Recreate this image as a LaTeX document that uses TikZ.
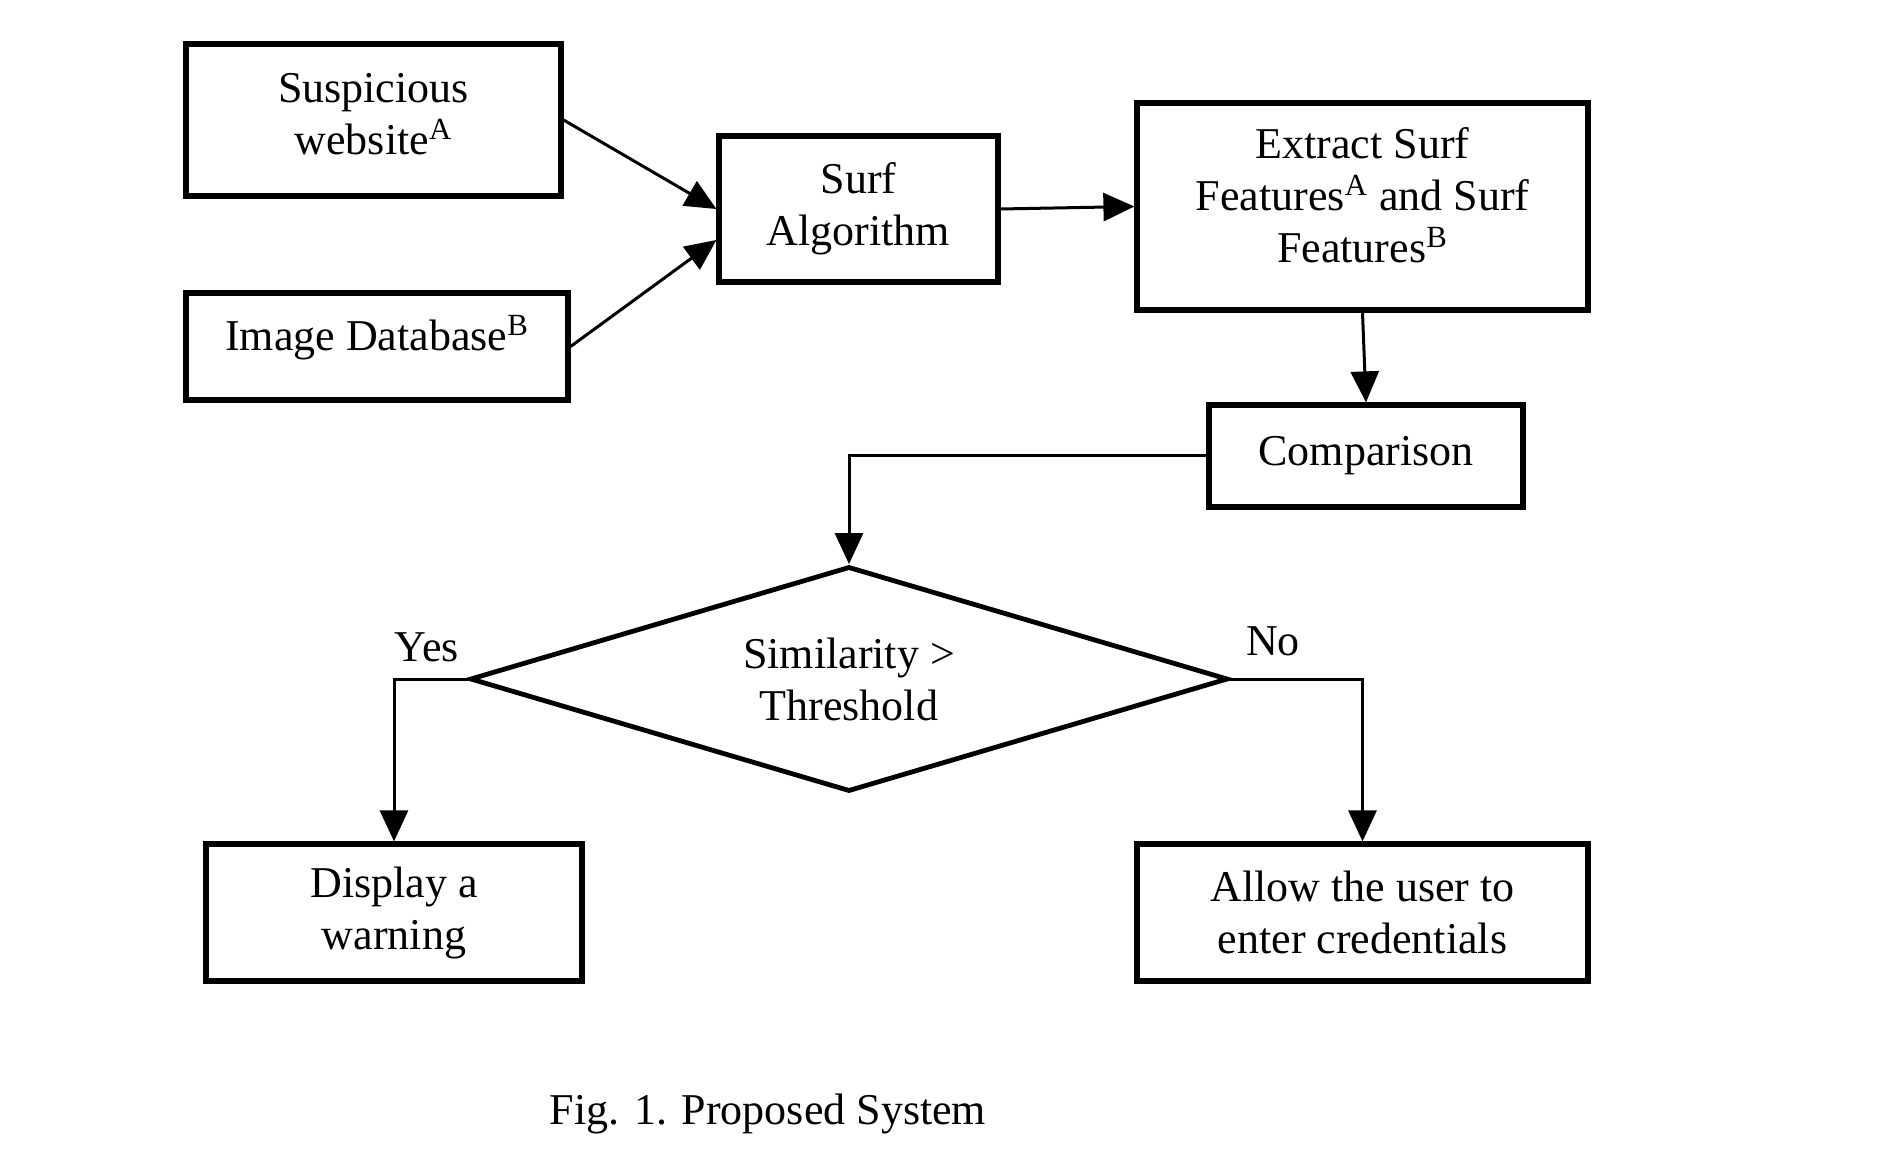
\documentclass[tikz,border=0pt]{standalone}
\usepackage{fontspec}
\setmainfont{Liberation Serif}
\usetikzlibrary{shapes.geometric,arrows.meta}
\begin{document}
\begin{tikzpicture}[x=0.5pt,y=-0.5pt,
  txt/.style={font=\fontsize{22}{26}\selectfont},
  box/.style={draw,line width=2.6pt,align=center,inner sep=0pt,txt},
  conn/.style={line width=1.5pt,-{Triangle[length=15.5pt,width=14pt]}},
  lbl/.style={txt,inner sep=0pt}]
\useasboundingbox (0,0) rectangle (1888,1170);
\node[box,minimum width=187.5pt,minimum height=76pt,text depth=6pt] (sus) at (373.5,120) {Suspicious\\website\textsuperscript{A}};
\node[box,minimum width=191pt,minimum height=53.5pt,text depth=14pt] (img) at (377,346.5) {Image Database\textsuperscript{B}};
\node[box,minimum width=139.5pt,minimum height=73pt] (surf) at (858.5,209) {Surf\\Algorithm};
\node[box,minimum width=225.5pt,minimum height=103.5pt,text depth=11pt] (ext) at (1362.5,206.5) {Extract Surf\\Features\textsuperscript{A} and Surf\\Features\textsuperscript{B}};
\node[box,minimum width=157pt,minimum height=51pt] (comp) at (1366,456) {Comparison};
\node[draw,shape=diamond,aspect=3.37,line width=2.4pt,align=center,inner sep=0pt,txt,minimum width=379pt,minimum height=112.5pt] (dec) at (849,679) {Similarity >\\Threshold};
\node[box,minimum width=188pt,minimum height=68.5pt] (warn) at (394,912.5) {Display a\\warning};
\node[box,minimum width=225.5pt,minimum height=68.5pt] (allow) at (1362.5,912.5) {Allow the user to\\enter credentials};
\draw[conn] (sus.east) -- (surf.west);
\draw[conn] (img.east) -- ([yshift=-15.5pt]surf.west);
\draw[conn] (surf.east) -- (ext.west);
\draw[conn] (ext.south) -- (comp.north);
\draw[conn] (comp.west) -| (dec.north);
\draw[conn] (dec.west) -| (warn.north);
\draw[conn] (dec.east) -| (allow.north);
\node[lbl] (yes) at (427,647) {Yes};
\node[lbl] (no) at (1273,641) {No};
\node[lbl] (cap) at (768,1114) {Fig. 1. Proposed System};
\end{tikzpicture}
\end{document}
